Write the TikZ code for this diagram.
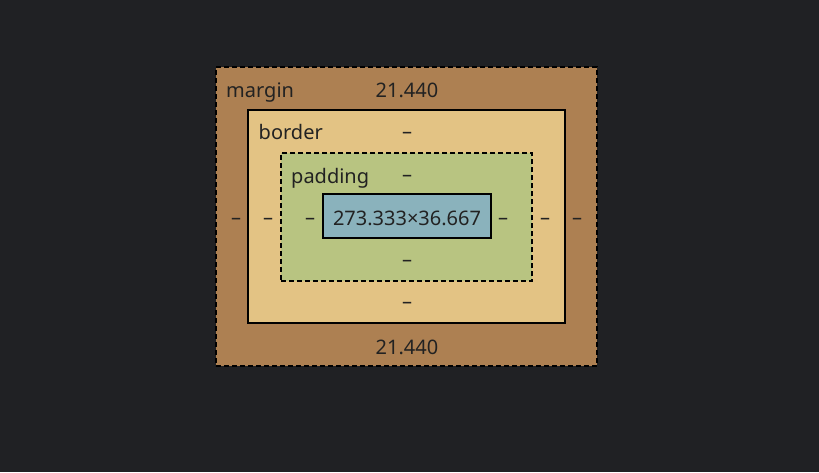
\documentclass[tikz,border=0pt]{standalone}
\usepackage{fontspec}
\setmainfont{Noto Sans}
\usetikzlibrary{positioning}
\definecolor{pagebg}{HTML}{202124}
\definecolor{marginfill}{HTML}{AD8052}
\definecolor{borderfill}{HTML}{E3C384}
\definecolor{paddingfill}{HTML}{B8C481}
\definecolor{contentfill}{HTML}{8AB2BC}
\definecolor{boxink}{HTML}{222222}
\tikzset{
  bm box/.style={draw=black, line width=2pt, inner sep=0pt, anchor=center},
  bm dash/.style={bm box, dash pattern=on 5pt off 3pt},
  bm lab/.style={font=\fontsize{20}{22}\selectfont, text=boxink, inner sep=0pt},
  bm val/.style={bm lab, anchor=base},
  bm name/.style={bm lab, anchor=base west},
}
\begin{document}
\begin{tikzpicture}[x=1pt, y=-1pt]
  % page and its extent
  \fill[pagebg] (0,0) rectangle (819,472);
  \useasboundingbox (0,0) rectangle (819,472);
  % the four nested boxes
  \node[bm dash, fill=marginfill, minimum width=381pt, minimum height=299pt] (mg) at (406.5,216.5) {};
  \node[bm box, fill=borderfill, minimum width=317pt, minimum height=213pt] (bd) at (406.5,216.5) {};
  \node[bm dash, fill=paddingfill, minimum width=251pt, minimum height=128pt] (pd) at (406.5,217) {};
  \node[bm box, fill=contentfill, minimum width=168pt, minimum height=44pt] (ct) at (407,216) {};
  \node[bm val] (size) at (407,225.5) {273.333×36.667};
  % names of the layers
  \node[bm name] (mgname) at (226,97.5) {margin};
  \node[bm name] (bdname) at (258.5,139) {border};
  \node[bm name] (pdname) at (291,183) {padding};
  % margin values
  \node[bm val] (mgtop) at (407,97.5) {21.440};
  \node[bm val] (mgbot) at (407,354) {21.440};
  \node[bm val] (mgleft) at (236,224) {–};
  \node[bm val] (mgright) at (577,224) {–};
  % border values
  \node[bm val] (bdtop) at (407,138) {–};
  \node[bm val] (bdbot) at (407,308) {–};
  \node[bm val] (bdleft) at (268,224) {–};
  \node[bm val] (bdright) at (545,224) {–};
  % padding values
  \node[bm val] (pdtop) at (407,181) {–};
  \node[bm val] (pdbot) at (407,266) {–};
  \node[bm val] (pdleft) at (310,224) {–};
  \node[bm val] (pdright) at (503,224) {–};
\end{tikzpicture}
\end{document}
